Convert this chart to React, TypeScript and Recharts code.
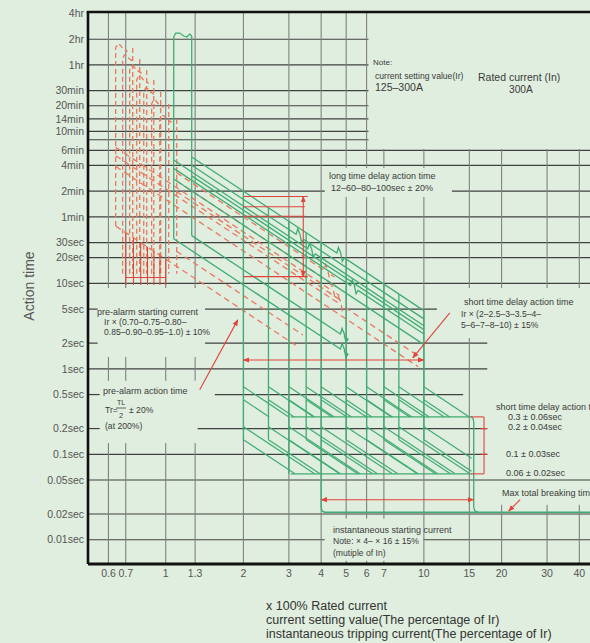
import React from 'react';
import { ComposedChart, Line, XAxis, YAxis } from 'recharts';

const W = 590;
const H = 643;
const BG = '#e0eedf';
const GREEN = '#3fac72';
const RED = '#e0443a';
const SALMON = '#e9785f';
const GRID_H = '#404040';
const GRID_V = '#808080';
const FONT = "'Liberation Sans', Arial, Helvetica, sans-serif";

const xDomain: [number, number] = [0.5, 44];
const yDomain: [number, number] = [0.0052, 15000];

// axis ticks
const xTicks = [0.6, 0.7, 1, 1.3, 2, 3, 4, 5, 6, 7, 10, 15, 20, 30, 40];
const yTicks = [0.01, 0.02, 0.05, 0.1, 0.2, 0.5, 1, 2, 5, 10, 20, 30, 60, 120, 240, 360, 600, 840, 1200, 1800, 3600, 7200, 14400];
const yTickLabels = ['0.01sec', '0.02sec', '0.05sec', '0.1sec', '0.2sec', '0.5sec', '1sec', '2sec', '5sec', '10sec', '20sec', '30sec', '1min', '2min', '4min', '6min', '10min', '14min', '20min', '30min', '1hr', '2hr', '4hr'];
const extraGridT = [480];

// gaps in grid lines behind annotation boxes: [xFrom, xTo, tFrom, tTo, applies]
const gridGaps: [number, number, number, number, string][] = [
  [6.1, 44, 374, 15000, 'hv'],
  [4.13, 12.84, 102.7, 224, 'hv'],
  [11.23, 44, 2.3, 8.86, 'hv'],
  [0.545, 1.42, 1.38, 8.86, 'hv'],
  [0.555, 1.55, 0.29, 0.724, 'hv'],
  [0.555, 1.33, 0.136, 0.29, 'hv'],
  [17.6, 44, 0.0559, 2.3, 'hv'],
  [14.2, 44, 0.434, 0.724, 'h'],
  [19.2, 44, 0.0257, 0.0451, 'h'],
  [19.2, 44, 0.0257, 2.3, 'v'],
  [4.13, 9.95, 0.00568, 0.0176, 'hv'],
];

// pre-alarm (red dashed)
const preLeftX = [0.64, 0.681, 0.725, 0.772, 0.822, 0.882, 0.948];
const preRightX = [0.745, 0.793, 0.844, 0.899, 0.956, 1.027, 1.103];
const preCapT = [6324, 4705, 3499, 2673, 1934, 1400, 935];
const preLeftBottomT = [46.9, 13, 13, 13, 13, 13, 13];
const preRightBottomT = [13, 13, 13, 13, 13, 13, 13];
// [x1, t1, x2, t2]
const preDiag: [number, number, number, number][] = [
  [1.1, 198, 4.5, 11.9],
  [1.1, 159, 4.6, 9.07],
  [0.64, 391, 4.7, 7.24],
  [1.1, 119, 4.8, 6.25],
  [0.64, 312, 9.5, 1.42],
  [0.64, 234, 9.5, 1.06],
  [1.1, 23.8, 3.4, 2.49],
  [0.64, 46.9, 3.2, 1.875],
];
// squiggle position (x) on each pre-alarm diagonal, 0 = none
const preDiagBreakX = [4.1, 0, 4.3, 0, 4.6, 0, 0, 0];
const preSolidX = [0.7, 0.75, 0.8, 0.85, 0.9, 0.95, 1.0];
const preSolidTopT = [39.2, 34.1, 30, 26.6, 23.7, 21.3, 19.2];
const preSolidBottomT = 9.6;
const preSolidBarT = 11.7;

// long-time delay (green)
const ltCapX = [1.074, 1.093, 1.133, 1.174, 1.206, 1.239, 1.261];
const ltCapT = [7640, 8507, 8507, 7848, 7640, 8280, 7848];
const ltLeftBottomT = 33.3;
const ltRightBottomT = 36.2;
const ltDiag: [number, number, number, number][] = [
  [1.261, 301.8, 10, 4.8],
  [1.261, 241.4, 10, 3.84],
  [1.261, 181.1, 10, 2.88],
  [1.074, 277.4, 10, 3.2],
  [1.074, 222, 10, 2.56],
  [1.074, 166.5, 10, 1.92],
  [1.261, 36.2, 4.9, 2.4],
  [1.074, 33.3, 4.9, 1.6],
];
// squiggle position (x) on each long-time diagonal, 0 = none
const ltDiagBreakX = [4.6, 3.2, 0, 3.55, 5.2, 0, 4.75, 4.75];

// short-time delay (green)
const stPickup = [2, 2.5, 3, 3.5, 4, 5, 6, 7, 8, 10];
const stTopT = [120, 76.8, 53.3, 39.2, 30, 19.2, 13.3, 9.8, 7.5, 4.8];
const stBottomT = [0.148, 0.148, 0.059, 0.148, 0.024, 0.148, 0.148, 0.148, 0.148, 0.148];
const stRampStartT = [0.616, 0.434, 0.21, 0.148];
const stRampEndT = [0.274, 0.274, 0.059, 0.059];
const stHighT = 0.274;
const stLowT = 0.059;
const stLevelFromX = 3.05;
const stLevelToX = 15.3;

// instantaneous
const instLeftX = 4.0;
const instRightX = 15.6;
const instT = 0.021;

// red markers
const ltBracketT = [104, 79, 61, 12];
const ltBracketEndX = [3.55, 3.46, 3.46, 3.55];
const ltBracketX = 3.41;
const stArrowT = 1.27;
const stArrowX: [number, number] = [2.0, 10];
const stBracketX = 17.1;
const instArrowT = 0.0294;
const pointers: [number, number, number, number][] = [
  [1.354, 0.568, 1.902, 3.74],
  [12.6, 4.52, 9.06, 1.345],
  [23.6, 0.0294, 21.3, 0.0216],
];

type Pt = { x: number; t: number };
type Seg = { id: string; pts: Pt[]; stroke: string; w: number; dash?: string; ms?: string; me?: string };

function splitRange(lo: number, hi: number, cuts: [number, number][]) {
  let segs: [number, number][] = [[lo, hi]];
  for (const [a, b] of cuts) {
    const next: [number, number][] = [];
    for (const [s, e] of segs) {
      if (b <= s || a >= e) { next.push([s, e]); continue; }
      if (a > s) next.push([s, a]);
      if (b < e) next.push([b, e]);
    }
    segs = next;
  }
  return segs;
}

// straight line on log-log axes between two points, with an optional small "S" break mark
function withBreak(d: [number, number, number, number], xb: number): Pt[] {
  const [x1, t1, x2, t2] = d;
  if (!xb) return [{ x: x1, t: t1 }, { x: x2, t: t2 }];
  const tAt = (x: number) => t1 * Math.pow(t2 / t1, Math.log(x / x1) / Math.log(x2 / x1));
  const tb = tAt(xb);
  return [
    { x: x1, t: t1 },
    { x: xb, t: tb },
    { x: xb * 1.015, t: tb * 1.16 },
    { x: xb * 1.035, t: tb * 1.0 },
    { x: xb * 1.05, t: tb * 0.8 },
    { x: xb * 1.07, t: tAt(xb * 1.07) },
    { x: x2, t: t2 },
  ];
}

const segs: Seg[] = [];
const add = (id: string, pts: Pt[], stroke: string, w: number, dash?: string, ms?: string, me?: string) =>
  segs.push({ id, pts, stroke, w, dash, ms, me });

// grid
[...yTicks.filter((t) => t < 14000), ...extraGridT].forEach((t) => {
  const cuts = gridGaps.filter((g) => g[4].includes('h') && t >= g[2] && t <= g[3]).map((g) => [g[0], g[1]] as [number, number]);
  splitRange(xDomain[0], xDomain[1], cuts).forEach(([a, b], i) => add(`gh${t}-${i}`, [{ x: a, t }, { x: b, t }], GRID_H, 1.2));
});
xTicks.forEach((x) => {
  const cuts = gridGaps.filter((g) => g[4].includes('v') && x >= g[0] && x <= g[1]).map((g) => [g[2], g[3]] as [number, number]);
  splitRange(yDomain[0], yDomain[1], cuts).forEach(([a, b], i) => add(`gv${x}-${i}`, [{ x, t: a }, { x, t: b }], GRID_V, 1.1));
});

// pre-alarm
const lerpX = (l: number, r: number, f: number) => l * Math.pow(r / l, f);
preLeftX.forEach((L, i) => {
  const R = preRightX[i];
  const T = preCapT[i];
  add(`pc${i}`, [
    { x: L, t: preLeftBottomT[i] },
    { x: L, t: T * 0.9 },
    { x: lerpX(L, R, 0.1), t: T },
    { x: lerpX(L, R, 0.25), t: T * 0.98 },
    { x: lerpX(L, R, 0.4), t: T * 0.9 },
    { x: lerpX(L, R, 0.55), t: T * 0.86 },
    { x: lerpX(L, R, 0.7), t: T * 0.82 },
  ], SALMON, 1.3, '5 3');
  add(`pr${i}`, [{ x: R, t: T * 0.9 }, { x: R, t: preRightBottomT[i] }], SALMON, 1.3, '5 3');
});
preDiag.forEach((d, i) => add(`pd${i}`, withBreak(d, preDiagBreakX[i]), SALMON, 1.3, '6 4'));
preSolidX.forEach((x, i) => add(`ps${i}`, [{ x, t: preSolidTopT[i] }, { x, t: preSolidBottomT }], RED, 1.1));
add('psbar', [{ x: preSolidX[0], t: preSolidBarT }, { x: preSolidX[preSolidX.length - 1], t: preSolidBarT }], RED, 1.1);

// long-time
add('ltcap', ltCapX.map((x, i) => ({ x, t: ltCapT[i] })), GREEN, 1.3);
add('ltl', [{ x: ltCapX[0], t: ltCapT[0] }, { x: ltCapX[0], t: ltLeftBottomT }], GREEN, 1.3);
add('ltr', [{ x: ltCapX[ltCapX.length - 1], t: ltCapT[ltCapT.length - 1] }, { x: ltCapX[ltCapX.length - 1], t: ltRightBottomT }], GREEN, 1.3);
ltDiag.forEach((d, i) => add(`ld${i}`, withBreak(d, ltDiagBreakX[i]), GREEN, 1.3));

// short-time
stPickup.forEach((p, i) => {
  add(`sv${i}`, [{ x: p, t: stTopT[i] }, { x: p, t: stBottomT[i] }], GREEN, 1.3);
  stRampStartT.forEach((t0, j) => {
    const t1 = stRampEndT[j];
    let x1 = p * Math.sqrt(t0 / t1);
    let tt = t1;
    if (x1 > stLevelToX) { x1 = stLevelToX; tt = t0 * (p / x1) * (p / x1); }
    if (x1 > p) add(`sr${i}-${j}`, [{ x: p, t: t0 }, { x: x1, t: tt }], GREEN, 1.2);
  });
});
add('sthigh', [{ x: stLevelFromX, t: stHighT }, { x: stLevelToX, t: stHighT }, { x: 15.5, t: 0.262 }, { x: instRightX, t: 0.24 }], GREEN, 1.3);
add('stlow', [{ x: stLevelFromX, t: stLowT }, { x: stLevelToX, t: stLowT }], GREEN, 1.3);

// instantaneous
add('instL', [{ x: instLeftX, t: 0.024 }, { x: 4.03, t: 0.0218 }, { x: 4.12, t: instT }, { x: xDomain[1], t: instT }], GREEN, 1.4);
add('instR', [{ x: instRightX, t: 0.24 }, { x: instRightX, t: 0.024 }, { x: 15.75, t: 0.0218 }, { x: 16.2, t: instT }], GREEN, 1.3);

// red brackets / arrows
ltBracketT.forEach((t, i) => add(`lb${i}`, [{ x: 2.0, t }, { x: ltBracketEndX[i], t }], RED, 1.1));
add('lbv', [{ x: ltBracketX, t: ltBracketT[3] }, { x: ltBracketX, t: ltBracketT[0] }], RED, 1.1, undefined, 'url(#arr)', 'url(#arr)');
add('sta', [{ x: stArrowX[0], t: stArrowT }, { x: stArrowX[1], t: stArrowT }], RED, 1.1, undefined, 'url(#arr)', 'url(#arr)');
add('stbv', [{ x: stBracketX, t: stLowT }, { x: stBracketX, t: stHighT }], RED, 1.1);
add('stbh1', [{ x: 15.2, t: stHighT }, { x: stBracketX, t: stHighT }], RED, 1.1);
add('stbh2', [{ x: 15.2, t: stLowT }, { x: stBracketX, t: stLowT }], RED, 1.1);
[0.2, 0.1].forEach((t, i) => add(`stbt${i}`, [{ x: 16.6, t }, { x: 17.6, t }], RED, 1.1));
add('ina', [{ x: instLeftX, t: instArrowT }, { x: instRightX, t: instArrowT }], RED, 1.1, undefined, 'url(#arr)', 'url(#arr)');
pointers.forEach((p, i) => add(`ptr${i}`, [{ x: p[0], t: p[1] }, { x: p[2], t: p[3] }], RED, 1.1, undefined, undefined, 'url(#arr)'));

type Note = { x: number; y: number; s: number; t: string; c?: string };
const notes: Note[] = [
  { x: 373, y: 65, s: 8, t: 'Note:' },
  { x: 375, y: 79, s: 8.6, t: 'current setting value(Ir)' },
  { x: 375, y: 91, s: 10.5, t: '125–300A' },
  { x: 478, y: 80.5, s: 10.5, t: 'Rated current  (In)' },
  { x: 509, y: 92.5, s: 10.2, t: '300A' },
  { x: 329, y: 179, s: 9, t: 'long time delay action time' },
  { x: 331, y: 191, s: 9, t: '12–60–80–100sec ± 20%' },
  { x: 464, y: 305, s: 9, t: 'short time delay action time' },
  { x: 461, y: 317, s: 8.6, t: 'Ir × (2–2.5–3–3.5–4–' },
  { x: 461, y: 328, s: 8.6, t: '5–6–7–8–10) ± 15%' },
  { x: 97, y: 315, s: 9, t: 'pre-alarm starting current' },
  { x: 104, y: 325, s: 8.6, t: 'Ir × (0.70–0.75–0.80–' },
  { x: 104, y: 335, s: 8.6, t: '0.85–0.90–0.95–1.0) ± 10%' },
  { x: 103, y: 394, s: 9, t: 'pre-alarm action time' },
  { x: 105, y: 413, s: 8.6, t: 'Tr=' },
  { x: 117, y: 405, s: 7, t: 'TL' },
  { x: 119, y: 418, s: 7.5, t: '2' },
  { x: 129, y: 413, s: 8.6, t: '± 20%' },
  { x: 105, y: 429, s: 8.6, t: '(at 200%)' },
  { x: 496, y: 410, s: 9, t: 'short time delay action time' },
  { x: 508, y: 420, s: 9, t: '0.3 ± 0.06sec' },
  { x: 508, y: 430, s: 9, t: '0.2 ± 0.04sec' },
  { x: 506, y: 457, s: 9, t: '0.1 ± 0.03sec' },
  { x: 506, y: 476, s: 9, t: '0.06 ± 0.02sec' },
  { x: 502, y: 496, s: 9, t: 'Max total breaking time' },
  { x: 333, y: 533, s: 9, t: 'instantaneous starting current' },
  { x: 333, y: 544, s: 8.6, t: 'Note: × 4– × 16 ± 15%' },
  { x: 333, y: 556, s: 8.6, t: '(mutiple of In)' },
  { x: 266, y: 610, s: 12.5, t: 'x 100% Rated current', c: '#333' },
  { x: 266, y: 624, s: 12.5, t: 'current setting value(The percentage of Ir)', c: '#333' },
  { x: 266, y: 638, s: 12.5, t: 'instantaneous tripping current(The percentage of Ir)', c: '#333' },
];

const fmtY = (v: number) => {
  const i = yTicks.findIndex((t) => Math.abs(t - v) < 1e-9);
  return i >= 0 ? yTickLabels[i] : '';
};

export default function App() {
  return (
    <div style={{ position: 'absolute', left: 0, top: 0, width: W, height: H, background: BG, overflow: 'hidden' }}>
      <ComposedChart width={W} height={H} margin={{ top: 12, right: 0, bottom: 54, left: 0 }}>
        <defs>
          <marker id="arr" viewBox="0 0 10 10" refX="9" refY="5" markerWidth="6" markerHeight="6" orient="auto-start-reverse">
            <path d="M0,1 L10,5 L0,9 z" fill={RED} />
          </marker>
        </defs>
        <XAxis
          dataKey="x"
          type="number"
          scale="log"
          domain={xDomain}
          allowDataOverflow
          ticks={xTicks}
          interval={0}
          height={25}
          tickLine={false}
          tickSize={4}
          tickMargin={2}
          axisLine={{ stroke: '#111', strokeWidth: 3 }}
          tick={{ fill: '#555', fontSize: 10.5, fontFamily: FONT }}
          tickFormatter={(v: number) => String(v)}
        />
        <YAxis
          dataKey="t"
          type="number"
          scale="log"
          domain={yDomain}
          allowDataOverflow
          ticks={yTicks}
          interval={0}
          width={88}
          tickLine={false}
          tickSize={2}
          tickMargin={2}
          axisLine={{ stroke: '#111', strokeWidth: 2.6 }}
          tick={{ fill: '#555', fontSize: 10.5, fontFamily: FONT }}
          tickFormatter={fmtY}
        />
        {segs.map((s) => (
          <Line
            key={s.id}
            data={s.pts}
            dataKey="t"
            type="linear"
            stroke={s.stroke}
            strokeWidth={s.w}
            strokeDasharray={s.dash}
            markerStart={s.ms}
            markerEnd={s.me}
            dot={false}
            activeDot={false}
            legendType="none"
            isAnimationActive={false}
          />
        ))}
      </ComposedChart>
      <svg width={W} height={H} style={{ position: 'absolute', left: 0, top: 0, pointerEvents: 'none' }}>
        <line x1={86.7} y1={12} x2={W} y2={12} stroke="#111" strokeWidth={2.6} />
        <text x={30} y={286} fontSize={14} fill="#555" fontFamily={FONT} textAnchor="middle" dominantBaseline="middle" transform="rotate(-90 30 286)">Action time</text>
        <line x1={116} y1={408} x2={126} y2={408} stroke="#444" strokeWidth={0.8} />
        {notes.map((n, i) => (
          <text key={i} x={n.x} y={n.y} fontSize={n.s} fill={n.c || '#3a3a3a'} fontFamily={FONT}>{n.t}</text>
        ))}
      </svg>
    </div>
  );
}
